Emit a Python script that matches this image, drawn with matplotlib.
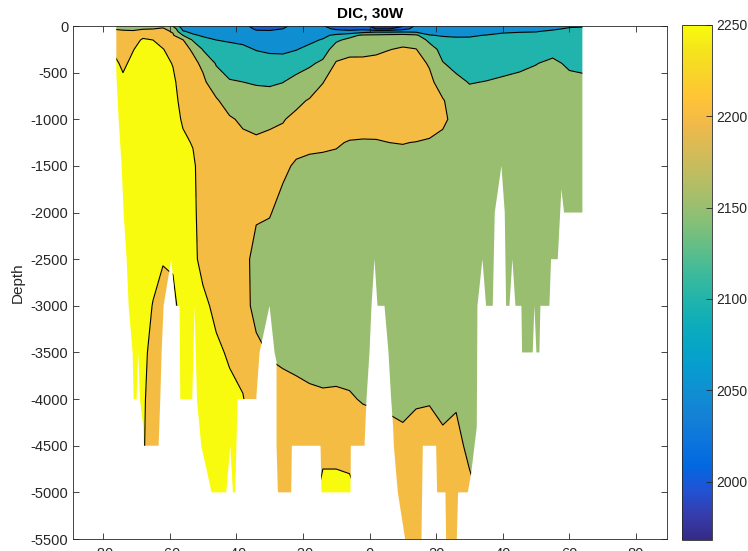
import numpy as np
import matplotlib
matplotlib.use("Agg")
import matplotlib.pyplot as plt
from matplotlib.colors import LinearSegmentedColormap, Normalize
from matplotlib.cm import ScalarMappable
from matplotlib.patches import Polygon

plt.rcParams["font.family"] = ["Liberation Sans", "DejaVu Sans"]
plt.rcParams["axes.unicode_minus"] = False

# section grid: latitude columns and depth levels (m)
lats = [-77, -74, -71, -68, -65, -62, -59, -56, -53, -50, -46, -42, -38, -34, -30,
        -26, -22, -18, -14, -10, -6, -2, 2, 6, 10, 14, 18, 22, 26, 30, 35, 40, 45,
        50, 55, 60, 65]
depths = [0, 30, 60, 100, 150, 250, 400, 600, 800, 1000, 1250, 1500, 2000, 2500,
          3000, 3500, 4000, 4500, 5000, 5500]

# DIC profiles (umol/kg), one list per latitude column, top to bottom
dic_profiles = [
    [2180, 2198, 2212, 2220, 2230, 2245, 2262, 2270, 2272, 2273, 2274, 2274, 2275, 2275, 2275, 2275, 2275, 2275, 2275, 2275],
    [2182, 2194, 2206, 2215, 2222, 2232, 2242, 2258, 2266, 2270, 2272, 2272, 2272, 2272, 2272, 2272, 2272, 2272, 2272, 2272],
    [2182, 2195, 2203, 2220, 2235, 2248, 2260, 2268, 2272, 2272, 2272, 2272, 2272, 2272, 2270, 2268, 2266, 2265, 2265, 2265],
    [2185, 2197, 2215, 2240, 2255, 2265, 2270, 2272, 2272, 2272, 2272, 2270, 2268, 2264, 2260, 2258, 2255, 2253, 2253, 2253],
    [2188, 2199, 2215, 2232, 2250, 2262, 2268, 2270, 2270, 2270, 2270, 2268, 2264, 2258, 2249, 2240, 2235, 2235, 2235, 2235],
    [2190, 2205, 2212, 2218, 2230, 2252, 2262, 2266, 2268, 2270, 2270, 2268, 2262, 2253, 2232, 2230, 2230, 2230, 2230, 2230],
    [2148, 2180, 2196, 2205, 2215, 2230, 2248, 2258, 2262, 2264, 2265, 2265, 2262, 2255, 2240, 2238, 2238, 2238, 2238, 2238],
    [2070, 2088, 2105, 2150, 2202, 2212, 2220, 2230, 2238, 2246, 2256, 2262, 2266, 2266, 2266, 2266, 2266, 2266, 2266, 2266],
    [2065, 2078, 2090, 2106, 2145, 2195, 2210, 2220, 2228, 2236, 2248, 2256, 2258, 2258, 2262, 2264, 2265, 2266, 2266, 2266],
    [2062, 2072, 2082, 2095, 2112, 2147, 2192, 2208, 2215, 2222, 2228, 2232, 2234, 2240, 2258, 2264, 2266, 2266, 2266, 2266],
    [2058, 2068, 2078, 2088, 2100, 2120, 2146, 2175, 2205, 2212, 2218, 2222, 2228, 2234, 2242, 2256, 2264, 2266, 2266, 2266],
    [2060, 2068, 2076, 2086, 2096, 2112, 2132, 2153, 2180, 2205, 2214, 2218, 2224, 2230, 2236, 2246, 2258, 2264, 2266, 2266],
    [2062, 2066, 2074, 2084, 2092, 2108, 2128, 2150, 2172, 2193, 2210, 2216, 2220, 2222, 2225, 2236, 2252, 2262, 2265, 2265],
    [2035, 2045, 2055, 2072, 2082, 2098, 2120, 2146, 2168, 2188, 2206, 2212, 2208, 2178, 2180, 2215, 2225, 2228, 2230, 2230],
    [2035, 2044, 2054, 2066, 2076, 2094, 2114, 2144, 2168, 2192, 2210, 2214, 2202, 2185, 2180, 2196, 2222, 2226, 2228, 2228],
    [2045, 2050, 2058, 2068, 2076, 2092, 2116, 2149, 2176, 2198, 2210, 2206, 2190, 2182, 2180, 2192, 2215, 2224, 2226, 2226],
    [2058, 2062, 2068, 2075, 2082, 2098, 2128, 2165, 2192, 2208, 2210, 2196, 2180, 2178, 2178, 2188, 2212, 2222, 2225, 2225],
    [2060, 2065, 2072, 2080, 2090, 2112, 2142, 2178, 2203, 2212, 2207, 2193, 2180, 2177, 2177, 2184, 2208, 2220, 2224, 2224],
    [2052, 2058, 2070, 2088, 2104, 2125, 2160, 2199, 2212, 2214, 2205, 2193, 2180, 2177, 2177, 2184, 2205, 2235, 2265, 2265],
    [2035, 2045, 2062, 2112, 2142, 2175, 2204, 2215, 2218, 2214, 2203, 2192, 2180, 2176, 2176, 2184, 2206, 2235, 2265, 2265],
    [2030, 2040, 2058, 2135, 2162, 2185, 2212, 2222, 2224, 2218, 2198, 2190, 2180, 2176, 2176, 2182, 2204, 2232, 2262, 2262],
    [2015, 2035, 2080, 2158, 2170, 2188, 2210, 2226, 2230, 2222, 2196, 2188, 2180, 2177, 2177, 2180, 2197, 2225, 2240, 2240],
    [1985, 1998, 2090, 2160, 2175, 2192, 2212, 2228, 2232, 2225, 2196, 2187, 2180, 2177, 2177, 2179, 2194, 2222, 2238, 2238],
    [1982, 1998, 2088, 2165, 2182, 2199, 2216, 2230, 2234, 2228, 2200, 2188, 2180, 2177, 2177, 2178, 2190, 2220, 2236, 2236],
    [1995, 2030, 2092, 2168, 2188, 2204, 2218, 2230, 2234, 2228, 2201, 2188, 2180, 2177, 2177, 2177, 2188, 2212, 2234, 2234],
    [2060, 2070, 2088, 2160, 2180, 2201, 2214, 2228, 2233, 2226, 2199, 2188, 2180, 2177, 2177, 2180, 2196, 2215, 2232, 2232],
    [2062, 2072, 2084, 2102, 2140, 2170, 2196, 2210, 2220, 2218, 2196, 2188, 2180, 2177, 2177, 2181, 2198, 2212, 2228, 2228],
    [2064, 2074, 2086, 2097, 2110, 2135, 2152, 2180, 2203, 2206, 2192, 2186, 2180, 2177, 2177, 2178, 2190, 2208, 2225, 2225],
    [2064, 2074, 2086, 2096, 2106, 2120, 2138, 2160, 2180, 2190, 2188, 2184, 2180, 2177, 2177, 2180, 2196, 2210, 2222, 2222],
    [2065, 2075, 2087, 2097, 2105, 2116, 2132, 2148, 2165, 2178, 2182, 2180, 2178, 2176, 2175, 2175, 2180, 2192, 2208, 2210],
    [2068, 2078, 2088, 2101, 2108, 2118, 2133, 2151, 2164, 2172, 2176, 2178, 2178, 2176, 2175, 2175, 2178, 2185, 2190, 2190],
    [2072, 2082, 2096, 2106, 2112, 2122, 2138, 2155, 2166, 2172, 2176, 2177, 2177, 2176, 2175, 2175, 2176, 2178, 2180, 2180],
    [2074, 2084, 2098, 2108, 2115, 2127, 2143, 2158, 2167, 2172, 2175, 2176, 2176, 2175, 2175, 2175, 2176, 2178, 2180, 2180],
    [2076, 2088, 2099, 2110, 2118, 2135, 2149, 2160, 2167, 2172, 2175, 2176, 2176, 2175, 2175, 2175, 2176, 2178, 2180, 2180],
    [2080, 2095, 2106, 2114, 2124, 2140, 2156, 2163, 2168, 2172, 2174, 2175, 2176, 2175, 2175, 2175, 2176, 2178, 2180, 2180],
    [2095, 2104, 2108, 2112, 2118, 2130, 2145, 2158, 2165, 2170, 2174, 2176, 2176, 2175, 2175, 2175, 2176, 2178, 2180, 2180],
    [2098, 2104, 2108, 2112, 2118, 2128, 2142, 2156, 2164, 2170, 2174, 2176, 2176, 2175, 2175, 2175, 2176, 2178, 2180, 2180],
]

# outline of the sampled section (sea floor and data edges), lat / depth
edge_lat = [-76.0, -76.0, -75.3, -74.4, -73.8, -72.9, -72.3, -71.1, -70.8, -69.9, -69.4, -68.9,
            -67.9, -67.7, -63.3, -62.8, -62.4, -61.8, -59.5, -58.2, -57.0, -56.8, -53.2, -52.5,
            -51.8, -50.5, -47.4, -43.0, -41.8, -41.0, -40.3, -39.6, -34.0, -33.0, -30.0, -28.5,
            -27.9, -27.9, -27.5, -23.5, -23.3, -14.7, -14.4, -5.7, -5.6, -1.5, -0.9, 0.0, 0.6,
            1.5, 2.4, 4.5, 5.7, 6.5, 7.1, 7.3, 8.5, 10.7, 15.6, 16.0, 20.0, 20.3, 22.8, 23.0,
            26.2, 26.6, 29.5, 30.5, 32.2, 32.4, 33.9, 35.0, 37.0, 37.6, 39.6, 40.6, 41.0, 42.0,
            42.9, 43.8, 45.6, 45.8, 49.0, 49.5, 50.1, 51.0, 51.3, 54.0, 54.5, 56.5, 57.6, 58.4,
            63.9, 63.9]
edge_depth = [0, 500, 1000, 1500, 2000, 2500, 3000, 3500, 4000, 4000, 3500, 4000,
              4300, 4500, 4500, 4000, 3500, 3000, 2500, 3000, 3000, 4000, 4000, 3000,
              4000, 4500, 5000, 5000, 4500, 5000, 5000, 4000, 4000, 3500, 3000, 3500,
              3600, 4500, 5000, 5000, 4500, 4500, 5000, 5000, 4500, 4500, 4000, 3500, 3000,
              2500, 3000, 3000, 3500, 4000, 4300, 4500, 5000, 5500, 5500, 4500, 4500, 5000, 5000, 5500,
              5500, 5000, 5000, 4800, 4300, 3000, 2500, 3000, 3000, 2000, 1500, 2000, 3000, 3000,
              2500, 3000, 3000, 3500, 3500, 3000, 3500, 3500, 3000, 3000, 2500, 2500, 1750, 2000,
              2000, 0]

levels = [2000, 2050, 2100, 2150, 2200, 2250]
cbar_ticks = [2000, 2050, 2100, 2150, 2200, 2250]

parula_rgb = [
    (0.2081, 0.1663, 0.5292), (0.2081, 0.2386, 0.6771), (0.1253, 0.3242, 0.8303),
    (0.0060, 0.4086, 0.8828), (0.0498, 0.4586, 0.8641), (0.0779, 0.5040, 0.8384),
    (0.0641, 0.5570, 0.8240), (0.0265, 0.6137, 0.8135), (0.0228, 0.6535, 0.7768),
    (0.0590, 0.6838, 0.7254), (0.1453, 0.7098, 0.6646), (0.2586, 0.7317, 0.5954),
    (0.3953, 0.7459, 0.5244), (0.5300, 0.7491, 0.4661), (0.6473, 0.7456, 0.4188),
    (0.7525, 0.7384, 0.3768), (0.8507, 0.7299, 0.3360), (0.9450, 0.7261, 0.2886),
    (0.9990, 0.7653, 0.2164), (0.9789, 0.8271, 0.1633), (0.9589, 0.8949, 0.1132),
    (0.9763, 0.9831, 0.0538),
]
parula = LinearSegmentedColormap.from_list("parula", parula_rgb, N=256)
norm = Normalize(vmin=1968, vmax=2250)

lat_arr = np.array(lats, dtype=float)
z_arr = -np.array(depths, dtype=float)
dic = np.array(dic_profiles, dtype=float).T

# each band takes the colour of its lower bound
fill_levels = [1900] + levels + [2400]
fill_colors = [parula(norm(v)) for v in [1968] + levels]

fig = plt.figure(figsize=(7.48, 5.51), dpi=100)
ax = fig.add_axes([73 / 748, 12 / 551, 594 / 748, 513 / 551])

cf = ax.contourf(lat_arr, z_arr, dic, levels=fill_levels, colors=fill_colors)
cl = ax.contour(lat_arr, z_arr, dic, levels=levels, colors="k", linewidths=0.8)

section = Polygon(np.column_stack([edge_lat, -np.array(edge_depth, dtype=float)]),
                  closed=True, transform=ax.transData)
cf.set_clip_path(section)
cl.set_clip_path(section)

ax.set_xlim(-89, 89.3)
ax.set_ylim(-5500, 0)
ax.set_xticks(np.arange(-80, 81, 20))
ax.set_yticks(np.arange(-5500, 1, 500))
ax.tick_params(direction="in", top=True, right=True, length=4, width=0.6,
               labelsize=10.5, colors="0.15")
ax.tick_params(axis="x", pad=5.5)
for sp in ax.spines.values():
    sp.set_color("0.15")
    sp.set_linewidth(0.6)
ax.set_ylabel("Depth", fontsize=11, color="0.15")
ax.set_title("DIC, 30W", fontsize=11, fontweight="bold", pad=6)

cax = fig.add_axes([682 / 748, 11 / 551, 30 / 748, 515 / 551])
cb = fig.colorbar(ScalarMappable(norm=norm, cmap=parula), cax=cax)
cb.set_ticks(cbar_ticks)
cb.ax.tick_params(direction="in", length=4, width=0.6, labelsize=10, pad=3,
                  colors="0.15")
cb.outline.set_edgecolor("0.15")
cb.outline.set_linewidth(0.6)

fig.savefig("out.png", dpi=100)
